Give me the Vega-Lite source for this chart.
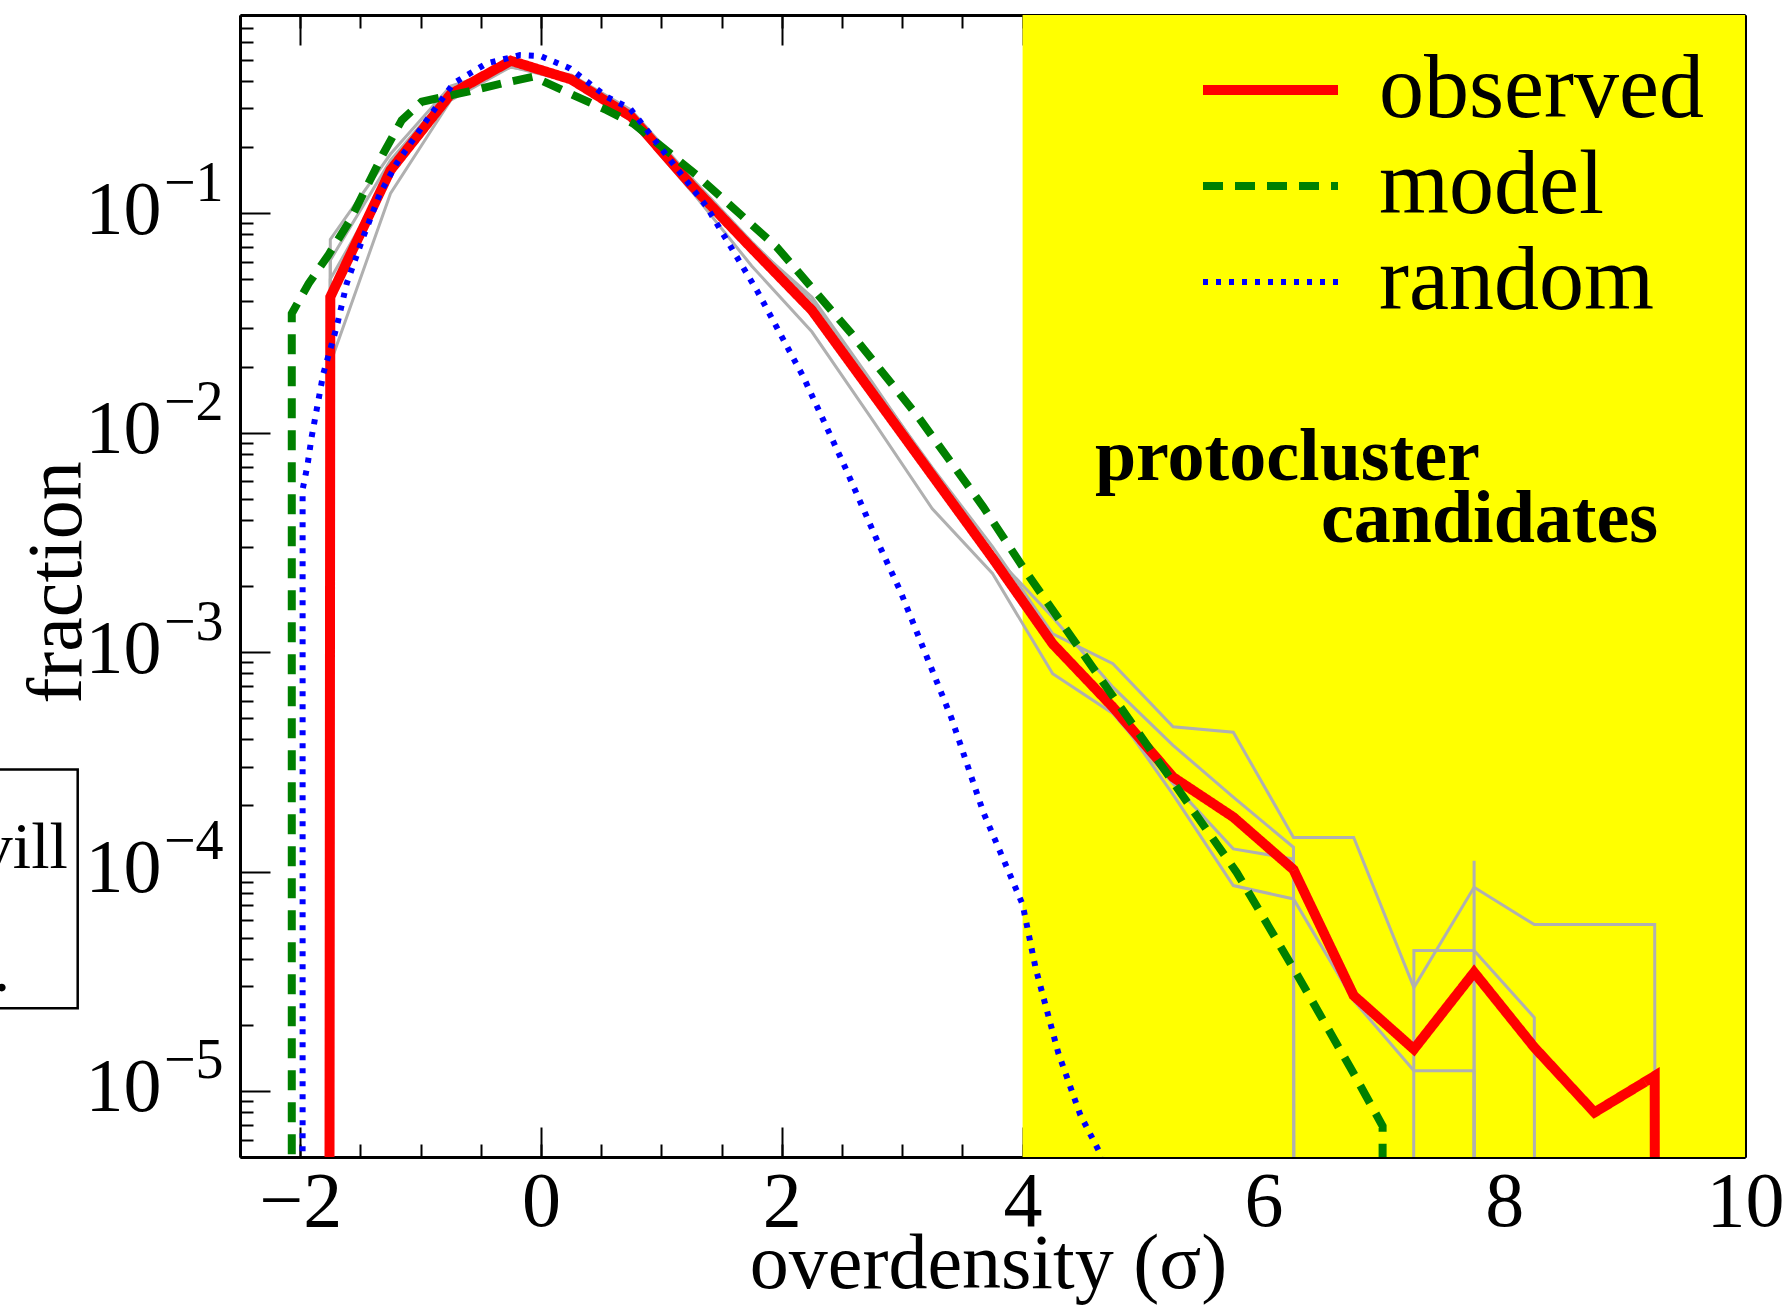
{
  "$schema": "https://vega.github.io/schema/vega-lite/v6.json",
  "width": 1505,
  "height": 1142,
  "autosize": {"type": "none"},
  "padding": {"left": 240, "top": 15, "right": 41, "bottom": 149},
  "background": "white",
  "config": {
    "view": {"stroke": null},
    "axis": {
      "grid": false, "zindex": 1, "labelOverlap": false, "labelFlush": false, "labelBound": false,
      "tickColor": "black", "domainColor": "black", "domainWidth": 3, "tickWidth": 2,
      "labelFont": "Liberation Serif", "labelColor": "black", "titleFont": "Liberation Serif",
      "titleColor": "black", "titleFontWeight": "normal"
    },
    "legend": {
      "title": null, "orient": "none", "legendX": 958, "legendY": 30, "symbolType": "stroke",
      "symbolSize": 18225, "labelFont": "Liberation Serif", "labelFontSize": 90, "labelColor": "black",
      "labelOffset": 36, "rowPadding": 6, "clipHeight": 90, "padding": 0, "labelLimit": 0
    }
  },
  "datasets": {
    "curves": [
      {"series": "observed", "x": -2.25, "y": 1e-300},
      {"series": "observed", "x": -1.75, "y": 0.0415},
      {"series": "observed", "x": -1.25, "y": 0.157},
      {"series": "observed", "x": -0.75, "y": 0.349},
      {"series": "observed", "x": -0.25, "y": 0.495},
      {"series": "observed", "x": 0.25, "y": 0.407},
      {"series": "observed", "x": 0.75, "y": 0.275},
      {"series": "observed", "x": 1.25, "y": 0.134},
      {"series": "observed", "x": 1.75, "y": 0.0692},
      {"series": "observed", "x": 2.25, "y": 0.0361},
      {"series": "observed", "x": 2.75, "y": 0.0152},
      {"series": "observed", "x": 3.25, "y": 0.00638},
      {"series": "observed", "x": 3.75, "y": 0.00268},
      {"series": "observed", "x": 4.25, "y": 0.00109},
      {"series": "observed", "x": 4.75, "y": 0.000561},
      {"series": "observed", "x": 5.25, "y": 0.000269},
      {"series": "observed", "x": 5.75, "y": 0.000177},
      {"series": "observed", "x": 6.25, "y": 0.000102},
      {"series": "observed", "x": 6.75, "y": 0.0000272},
      {"series": "observed", "x": 7.25, "y": 0.0000155},
      {"series": "observed", "x": 7.75, "y": 0.0000347},
      {"series": "observed", "x": 8.25, "y": 0.0000158},
      {"series": "observed", "x": 8.75, "y": 0.00000798},
      {"series": "observed", "x": 9.25, "y": 0.0000117},
      {"series": "observed", "x": 9.75, "y": 1e-300},
      {"series": "model", "x": -2.071, "y": 1e-300},
      {"series": "model", "x": -2.07, "y": 0.0349},
      {"series": "model", "x": -1.93, "y": 0.0478},
      {"series": "model", "x": -1.767, "y": 0.0643},
      {"series": "model", "x": -1.586, "y": 0.0929},
      {"series": "model", "x": -1.462, "y": 0.127},
      {"series": "model", "x": -1.31, "y": 0.187},
      {"series": "model", "x": -1.157, "y": 0.265},
      {"series": "model", "x": -0.991, "y": 0.322},
      {"series": "model", "x": -0.617, "y": 0.357},
      {"series": "model", "x": -0.326, "y": 0.39},
      {"series": "model", "x": -0.064, "y": 0.419},
      {"series": "model", "x": 0.268, "y": 0.345},
      {"series": "model", "x": 0.546, "y": 0.295},
      {"series": "model", "x": 0.767, "y": 0.256},
      {"series": "model", "x": 1.293, "y": 0.149},
      {"series": "model", "x": 1.958, "y": 0.0701},
      {"series": "model", "x": 2.566, "y": 0.0288},
      {"series": "model", "x": 3.134, "y": 0.01178},
      {"series": "model", "x": 3.674, "y": 0.00458},
      {"series": "model", "x": 4.02, "y": 0.002355},
      {"series": "model", "x": 4.532, "y": 0.000931},
      {"series": "model", "x": 5.28, "y": 0.000242},
      {"series": "model", "x": 5.778, "y": 0.0000991},
      {"series": "model", "x": 6.277, "y": 0.0000341},
      {"series": "model", "x": 6.75, "y": 0.000012},
      {"series": "model", "x": 6.99, "y": 0.00000692},
      {"series": "model", "x": 6.991, "y": 1e-300},
      {"series": "random", "x": -1.981, "y": 1e-300},
      {"series": "random", "x": -1.98, "y": 0.0055},
      {"series": "random", "x": -1.94, "y": 0.00708},
      {"series": "random", "x": -1.905, "y": 0.00955},
      {"series": "random", "x": -1.808, "y": 0.01858},
      {"series": "random", "x": -1.697, "y": 0.03034},
      {"series": "random", "x": -1.614, "y": 0.04775},
      {"series": "random", "x": -1.476, "y": 0.078},
      {"series": "random", "x": -1.337, "y": 0.123},
      {"series": "random", "x": -1.199, "y": 0.1687},
      {"series": "random", "x": -0.949, "y": 0.2655},
      {"series": "random", "x": -0.728, "y": 0.39},
      {"series": "random", "x": -0.451, "y": 0.482},
      {"series": "random", "x": -0.174, "y": 0.525},
      {"series": "random", "x": 0.0, "y": 0.519},
      {"series": "random", "x": 0.241, "y": 0.457},
      {"series": "random", "x": 0.546, "y": 0.339},
      {"series": "random", "x": 0.739, "y": 0.3},
      {"series": "random", "x": 1.376, "y": 0.107},
      {"series": "random", "x": 1.792, "y": 0.0446},
      {"series": "random", "x": 2.179, "y": 0.01795},
      {"series": "random", "x": 2.525, "y": 0.00697},
      {"series": "random", "x": 2.816, "y": 0.003006},
      {"series": "random", "x": 2.982, "y": 0.00191},
      {"series": "random", "x": 3.17, "y": 0.001059},
      {"series": "random", "x": 3.411, "y": 0.000497},
      {"series": "random", "x": 3.674, "y": 0.000186},
      {"series": "random", "x": 4.0, "y": 0.0000708},
      {"series": "random", "x": 4.108, "y": 0.0000363},
      {"series": "random", "x": 4.295, "y": 0.000015},
      {"series": "random", "x": 4.48, "y": 0.00000776},
      {"series": "random", "x": 4.66, "y": 0.000005}
    ],
    "g1": [
      {"x": -2.25, "y": 1e-300}, {"x": -1.75, "y": 0.0611}, {"x": -1.25, "y": 0.174}, {"x": -0.75, "y": 0.363},
      {"x": -0.25, "y": 0.479}, {"x": 0.25, "y": 0.427}, {"x": 0.75, "y": 0.295}, {"x": 1.25, "y": 0.1445},
      {"x": 1.75, "y": 0.0741}, {"x": 2.25, "y": 0.0398}, {"x": 2.75, "y": 0.0166}, {"x": 3.25, "y": 0.00692},
      {"x": 3.75, "y": 0.00302}, {"x": 4.25, "y": 0.00121}, {"x": 4.75, "y": 0.000885}, {"x": 5.25, "y": 0.000457},
      {"x": 5.75, "y": 0.000431}, {"x": 6.25, "y": 0.000143}, {"x": 6.75, "y": 0.000143}, {"x": 7.25, "y": 0.0000296},
      {"x": 7.75, "y": 0.0000847}, {"x": 8.25, "y": 0.0000573}, {"x": 8.75, "y": 0.0000573}, {"x": 9.25, "y": 0.0000573},
      {"x": 9.75, "y": 1e-300}
    ],
    "g2": [
      {"x": -2.25, "y": 1e-300}, {"x": -1.75, "y": 0.0759}, {"x": -1.25, "y": 0.186}, {"x": -0.75, "y": 0.38},
      {"x": -0.25, "y": 0.462}, {"x": 0.25, "y": 0.417}, {"x": 0.75, "y": 0.285}, {"x": 1.25, "y": 0.141},
      {"x": 1.75, "y": 0.0724}, {"x": 2.25, "y": 0.0415}, {"x": 2.75, "y": 0.017}, {"x": 3.25, "y": 0.00676},
      {"x": 3.75, "y": 0.00282}, {"x": 4.25, "y": 0.00144}, {"x": 4.75, "y": 0.000692}, {"x": 5.25, "y": 0.000376},
      {"x": 5.75, "y": 0.000218}, {"x": 6.25, "y": 0.000129}, {"x": 6.75, "y": 1e-300}, {"x": 7.25, "y": 0.0000436},
      {"x": 7.75, "y": 0.0000436}, {"x": 8.25, "y": 0.0000216}, {"x": 8.75, "y": 1e-300}
    ],
    "g3": [
      {"x": -2.25, "y": 1e-300}, {"x": -1.75, "y": 0.02065}, {"x": -1.25, "y": 0.123}, {"x": -0.75, "y": 0.327},
      {"x": -0.25, "y": 0.4645}, {"x": 0.25, "y": 0.398}, {"x": 0.75, "y": 0.263}, {"x": 1.25, "y": 0.126},
      {"x": 1.75, "y": 0.0575}, {"x": 2.25, "y": 0.0288}, {"x": 2.75, "y": 0.01148}, {"x": 3.25, "y": 0.0045},
      {"x": 3.75, "y": 0.00228}, {"x": 4.25, "y": 0.000796}, {"x": 4.75, "y": 0.000525}, {"x": 5.25, "y": 0.000251},
      {"x": 5.75, "y": 0.0001268}, {"x": 6.25, "y": 0.000114}, {"x": 6.75, "y": 1e-300}, {"x": 7.25, "y": 1e-300},
      {"x": 7.75, "y": 0.000112}, {"x": 8.25, "y": 1e-300}
    ],
    "g4": [
      {"x": -2.25, "y": 1e-300}, {"x": -1.75, "y": 0.0501}, {"x": -1.25, "y": 0.1514}, {"x": -0.75, "y": 0.339},
      {"x": -0.25, "y": 0.49}, {"x": 0.25, "y": 0.412}, {"x": 0.75, "y": 0.279}, {"x": 1.25, "y": 0.138},
      {"x": 1.75, "y": 0.0676}, {"x": 2.25, "y": 0.0355}, {"x": 2.75, "y": 0.01479}, {"x": 3.25, "y": 0.00631},
      {"x": 3.75, "y": 0.00263}, {"x": 4.25, "y": 0.00112}, {"x": 4.75, "y": 0.000551}, {"x": 5.25, "y": 0.000224},
      {"x": 5.75, "y": 0.0000863}, {"x": 6.25, "y": 0.000075}, {"x": 6.75, "y": 0.0000258}, {"x": 7.25, "y": 0.00001236},
      {"x": 7.75, "y": 0.00001236}, {"x": 8.25, "y": 1e-300}
    ]
  },
  "layer": [
    {
      "data": {"values": [{"x1": 4, "x2": 10}]},
      "mark": {"type": "rect", "color": "#ffff00"},
      "encoding": {
        "x": {"field": "x1", "type": "quantitative",
          "scale": {"type": "linear", "domain": [-2.5, 10], "nice": false, "zero": false},
          "axis": {"orient": "bottom", "values": [-2, 0, 2, 4, 6, 8, 10], "tickSize": -30, "labelPadding": 36,
            "labelFontSize": 78, "domain": true,
            "title": "overdensity (σ)", "titleFontSize": 78, "titleX": 748, "titleY": 130,
            "titleBaseline": "alphabetic", "titleAlign": "center", "titleAnchor": null}},
        "x2": {"field": "x2"}
      }
    },
    {
      "data": {"name": "g1"},
      "mark": {"type": "line", "color": "#b0b0b0", "strokeWidth": 3, "clip": true},
      "encoding": {
        "x": {"field": "x", "type": "quantitative",
          "scale": {"type": "linear", "domain": [-2.5, 10], "nice": false, "zero": false},
          "axis": {"orient": "bottom", "values": [-2.5,-2,-1.5,-1,-0.5,0,0.5,1,1.5,2,2.5,3,3.5,4,4.5,5,5.5,6,6.5,7,7.5,8,8.5,9,9.5,10],
            "tickSize": -13, "labels": false, "domain": false, "title": null}},
        "y": {"field": "y", "type": "quantitative",
          "scale": {"type": "log", "domain": [0.000005, 0.8], "nice": false},
          "axis": {"orient": "left", "values": [0.00001, 0.0001, 0.001, 0.01, 0.1], "tickSize": -30,
            "labelPadding": 109, "labelExpr": "'10'", "labelFontSize": 76, "labelOffset": -3, "domain": true,
            "title": "fraction", "titleFontSize": 78, "titleAngle": 270, "titleX": -160, "titleY": 567,
            "titleBaseline": "alphabetic", "titleAlign": "center", "titleAnchor": null}}
      }
    },
    {
      "data": {"name": "g2"},
      "mark": {"type": "line", "color": "#b0b0b0", "strokeWidth": 3, "clip": true},
      "encoding": {
        "x": {"field": "x", "type": "quantitative",
          "scale": {"type": "linear", "domain": [-2.5, 10], "nice": false, "zero": false},
          "axis": {"orient": "top", "values": [-2, 0, 2, 4, 6, 8, 10], "tickSize": -30, "labels": false,
            "domain": true, "title": null}},
        "y": {"field": "y", "type": "quantitative",
          "scale": {"type": "log", "domain": [0.000005, 0.8], "nice": false},
          "axis": {"orient": "left", "values": [0.000005,0.000006,0.000007,0.000008,0.000009,
              0.00002,0.00003,0.00004,0.00005,0.00006,0.00007,0.00008,0.00009,
              0.0002,0.0003,0.0004,0.0005,0.0006,0.0007,0.0008,0.0009,
              0.002,0.003,0.004,0.005,0.006,0.007,0.008,0.009,
              0.02,0.03,0.04,0.05,0.06,0.07,0.08,0.09,
              0.2,0.3,0.4,0.5,0.6,0.7,0.8],
            "tickSize": -13, "labels": false, "domain": false, "title": null}}
      }
    },
    {
      "data": {"name": "g3"},
      "mark": {"type": "line", "color": "#b0b0b0", "strokeWidth": 3, "clip": true},
      "encoding": {
        "x": {"field": "x", "type": "quantitative",
          "scale": {"type": "linear", "domain": [-2.5, 10], "nice": false, "zero": false},
          "axis": {"orient": "top", "values": [-2.5,-2,-1.5,-1,-0.5,0,0.5,1,1.5,2,2.5,3,3.5,4,4.5,5,5.5,6,6.5,7,7.5,8,8.5,9,9.5,10],
            "tickSize": -13, "labels": false, "domain": false, "title": null}},
        "y": {"field": "y", "type": "quantitative",
          "scale": {"type": "log", "domain": [0.000005, 0.8], "nice": false},
          "axis": {"orient": "right", "values": [0.00001, 0.0001, 0.001, 0.01, 0.1], "tickSize": -30,
            "labels": false, "domain": true, "title": null}}
      }
    },
    {
      "data": {"name": "g4"},
      "mark": {"type": "line", "color": "#b0b0b0", "strokeWidth": 3, "clip": true},
      "encoding": {
        "x": {"field": "x", "type": "quantitative",
          "scale": {"type": "linear", "domain": [-2.5, 10], "nice": false, "zero": false}, "axis": null},
        "y": {"field": "y", "type": "quantitative",
          "scale": {"type": "log", "domain": [0.000005, 0.8], "nice": false},
          "axis": {"orient": "right", "values": [0.000005,0.000006,0.000007,0.000008,0.000009,
              0.00002,0.00003,0.00004,0.00005,0.00006,0.00007,0.00008,0.00009,
              0.0002,0.0003,0.0004,0.0005,0.0006,0.0007,0.0008,0.0009,
              0.002,0.003,0.004,0.005,0.006,0.007,0.008,0.009,
              0.02,0.03,0.04,0.05,0.06,0.07,0.08,0.09,
              0.2,0.3,0.4,0.5,0.6,0.7,0.8],
            "tickSize": -13, "labels": false, "domain": false, "title": null}}
      }
    },
    {
      "data": {"name": "curves"},
      "mark": {"type": "line", "clip": true},
      "encoding": {
        "x": {"field": "x", "type": "quantitative",
          "scale": {"type": "linear", "domain": [-2.5, 10], "nice": false, "zero": false}, "axis": null},
        "y": {"field": "y", "type": "quantitative",
          "scale": {"type": "log", "domain": [0.000005, 0.8], "nice": false},
          "axis": {"orient": "left", "values": [0.00001, 0.0001, 0.001, 0.01, 0.1], "ticks": false, "tickSize": 0,
            "domain": false, "labelPadding": 17, "labelExpr": "'−' + format(-log(datum.value)/LN10, '.0f')",
            "labelFontSize": 56, "labelOffset": -30, "title": null}},
        "color": {"field": "series", "type": "nominal",
          "scale": {"domain": ["observed", "model", "random"], "range": ["#ff0000", "#008000", "#0000ff"]}},
        "strokeDash": {"field": "series", "type": "nominal",
          "scale": {"domain": ["observed", "model", "random"], "range": [[1, 0], [20, 12], [5, 8]]}},
        "strokeWidth": {"field": "series", "type": "nominal",
          "scale": {"domain": ["observed", "model", "random"], "range": [10, 6, 5]}}
      }
    },
    {
      "data": {"values": [
        {"x": 4.601, "y": 0.00606, "t": "protocluster"},
        {"x": 6.478, "y": 0.00316, "t": "candidates"}
      ]},
      "mark": {"type": "text", "font": "Liberation Serif", "fontWeight": "bold", "fontSize": 74,
        "align": "left", "baseline": "alphabetic", "color": "black"},
      "encoding": {
        "x": {"field": "x", "type": "quantitative",
          "scale": {"type": "linear", "domain": [-2.5, 10], "nice": false, "zero": false}, "axis": null},
        "y": {"field": "y", "type": "quantitative",
          "scale": {"type": "log", "domain": [0.000005, 0.8], "nice": false}, "axis": null},
        "text": {"field": "t"}
      }
    },
    {
      "data": {"values": [{"x1": -5, "x2": -3.848, "y1": 0.000292, "y2": 0.0000238}]},
      "mark": {"type": "rect", "fill": "transparent", "stroke": "black", "strokeWidth": 2.5, "clip": false},
      "encoding": {
        "x": {"field": "x1", "type": "quantitative",
          "scale": {"type": "linear", "domain": [-2.5, 10], "nice": false, "zero": false}, "axis": null},
        "x2": {"field": "x2"},
        "y": {"field": "y1", "type": "quantitative",
          "scale": {"type": "log", "domain": [0.000005, 0.8], "nice": false}, "axis": null},
        "y2": {"field": "y2"}
      }
    },
    {
      "data": {"values": [
        {"x": -3.93, "y": 0.000104, "t": "vill"},
        {"x": -4.41, "y": 0.0000286, "t": "."}
      ]},
      "mark": {"type": "text", "font": "Liberation Serif", "fontSize": 66, "align": "right",
        "baseline": "alphabetic", "color": "black"},
      "encoding": {
        "x": {"field": "x", "type": "quantitative",
          "scale": {"type": "linear", "domain": [-2.5, 10], "nice": false, "zero": false}, "axis": null},
        "y": {"field": "y", "type": "quantitative",
          "scale": {"type": "log", "domain": [0.000005, 0.8], "nice": false}, "axis": null},
        "text": {"field": "t"}
      }
    }
  ],
  "resolve": {"axis": {"x": "independent", "y": "independent"}}
}
